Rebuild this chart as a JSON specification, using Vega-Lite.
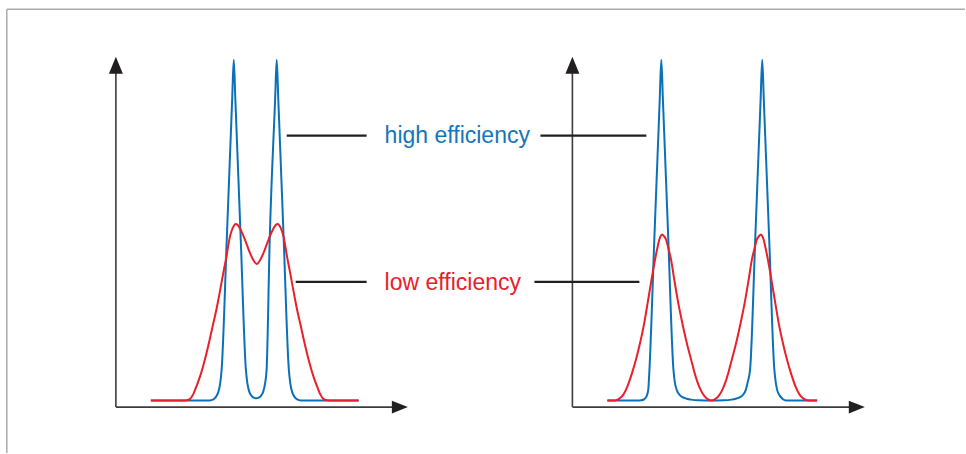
{
  "$schema": "https://vega.github.io/schema/vega-lite/v6.json",
  "width": 966,
  "height": 454,
  "autosize": {"type": "fit", "contains": "padding"},
  "padding": 0,
  "background": "white",
  "view": {"stroke": null},
  "config": {"font": "Liberation Sans"},
  "datasets": {
    "frame": [
      {"t": 6.8, "t2": 966, "s": 392.2, "s2": 392.2},
      {"t": 6.8, "t2": 6.8, "s": 392.2, "s2": -52.5}
    ],
    "axes": [
      {"t": 116, "t2": 116, "s": -6.5, "s2": 332},
      {"t": 116, "t2": 400, "s": -6.5, "s2": -6.5},
      {"t": 573, "t2": 573, "s": -6.5, "s2": 332},
      {"t": 573, "t2": 858, "s": -6.5, "s2": -6.5}
    ],
    "arrowsUp": [
      {"t": 116, "s": 336},
      {"t": 573, "s": 336}
    ],
    "arrowsRight": [
      {"t": 400.3, "s": -6.5},
      {"t": 857.7, "s": -6.5}
    ],
    "leaders": [
      {"t": 287, "t2": 367, "s": 265.5, "s2": 265.5},
      {"t": 541, "t2": 647, "s": 265.5, "s2": 265.5},
      {"t": 296, "t2": 367, "s": 119, "s2": 119},
      {"t": 535, "t2": 640, "s": 119, "s2": 119}
    ],
    "labels": [
      {"t": 385, "s": 258.3, "label": "high efficiency"},
      {"t": 385, "s": 111.3, "label": "low efficiency"}
    ],
    "blue": [
      {"panel": "L", "t": 151, "s": 0},
      {"panel": "L", "t": 205, "s": 0},
      {"panel": "L", "t": 210, "s": 0.2},
      {"panel": "L", "t": 213, "s": 1},
      {"panel": "L", "t": 216, "s": 3.5},
      {"panel": "L", "t": 218.5, "s": 8.5},
      {"panel": "L", "t": 220.3, "s": 16.5},
      {"panel": "L", "t": 221.9, "s": 31.5},
      {"panel": "L", "t": 227, "s": 161.5},
      {"panel": "L", "t": 232.4, "s": 301.5},
      {"panel": "L", "t": 234, "s": 341.5},
      {"panel": "L", "t": 235.6, "s": 301.5},
      {"panel": "L", "t": 241, "s": 161.5},
      {"panel": "L", "t": 246.1, "s": 31.5},
      {"panel": "L", "t": 247.6, "s": 17.5},
      {"panel": "L", "t": 249.5, "s": 9},
      {"panel": "L", "t": 252, "s": 4.5},
      {"panel": "L", "t": 254.5, "s": 2.7},
      {"panel": "L", "t": 256.5, "s": 2.3},
      {"panel": "L", "t": 258.5, "s": 2.7},
      {"panel": "L", "t": 261, "s": 4.5},
      {"panel": "L", "t": 263.5, "s": 9},
      {"panel": "L", "t": 265.4, "s": 17.5},
      {"panel": "L", "t": 266.9, "s": 31.5},
      {"panel": "L", "t": 270, "s": 161.5},
      {"panel": "L", "t": 275.4, "s": 301.5},
      {"panel": "L", "t": 277, "s": 341.5},
      {"panel": "L", "t": 278.6, "s": 301.5},
      {"panel": "L", "t": 284, "s": 161.5},
      {"panel": "L", "t": 289.1, "s": 31.5},
      {"panel": "L", "t": 290.7, "s": 16.5},
      {"panel": "L", "t": 292.5, "s": 8.5},
      {"panel": "L", "t": 295, "s": 3.5},
      {"panel": "L", "t": 298, "s": 1},
      {"panel": "L", "t": 301, "s": 0.2},
      {"panel": "L", "t": 306, "s": 0},
      {"panel": "L", "t": 359, "s": 0},
      {"panel": "R", "t": 608, "s": 0},
      {"panel": "R", "t": 638, "s": 0},
      {"panel": "R", "t": 642, "s": 0.3},
      {"panel": "R", "t": 645, "s": 1.5},
      {"panel": "R", "t": 647.5, "s": 5},
      {"panel": "R", "t": 649, "s": 11.5},
      {"panel": "R", "t": 649.9, "s": 26.5},
      {"panel": "R", "t": 655, "s": 161.5},
      {"panel": "R", "t": 660.4, "s": 301.5},
      {"panel": "R", "t": 662, "s": 341.5},
      {"panel": "R", "t": 663.6, "s": 301.5},
      {"panel": "R", "t": 669, "s": 161.5},
      {"panel": "R", "t": 674.1, "s": 31.5},
      {"panel": "R", "t": 675.5, "s": 18.5},
      {"panel": "R", "t": 677.5, "s": 10.5},
      {"panel": "R", "t": 680.5, "s": 5.5},
      {"panel": "R", "t": 685, "s": 2.7},
      {"panel": "R", "t": 692, "s": 1},
      {"panel": "R", "t": 700, "s": 0.3},
      {"panel": "R", "t": 712, "s": 0},
      {"panel": "R", "t": 724, "s": 0.3},
      {"panel": "R", "t": 732, "s": 1},
      {"panel": "R", "t": 739, "s": 2.7},
      {"panel": "R", "t": 743.5, "s": 5.5},
      {"panel": "R", "t": 746.5, "s": 10.5},
      {"panel": "R", "t": 748.5, "s": 18.5},
      {"panel": "R", "t": 750.9, "s": 31.5},
      {"panel": "R", "t": 756, "s": 161.5},
      {"panel": "R", "t": 761.4, "s": 301.5},
      {"panel": "R", "t": 763, "s": 341.5},
      {"panel": "R", "t": 764.6, "s": 301.5},
      {"panel": "R", "t": 770, "s": 161.5},
      {"panel": "R", "t": 775.1, "s": 31.5},
      {"panel": "R", "t": 776.5, "s": 18.5},
      {"panel": "R", "t": 778, "s": 10.5},
      {"panel": "R", "t": 780.5, "s": 5},
      {"panel": "R", "t": 783.5, "s": 1.7},
      {"panel": "R", "t": 787, "s": 0.2},
      {"panel": "R", "t": 792, "s": 0},
      {"panel": "R", "t": 818, "s": 0}
    ],
    "red": [
      {"panel": "L", "t": 151, "s": 0},
      {"panel": "L", "t": 183, "s": 0},
      {"panel": "L", "t": 187, "s": 0.3},
      {"panel": "L", "t": 190, "s": 1.5},
      {"panel": "L", "t": 193.5, "s": 6.5},
      {"panel": "L", "t": 196.7, "s": 14.5},
      {"panel": "L", "t": 200, "s": 23.5},
      {"panel": "L", "t": 203.3, "s": 34.5},
      {"panel": "L", "t": 206.7, "s": 47.5},
      {"panel": "L", "t": 210, "s": 61.5},
      {"panel": "L", "t": 213.3, "s": 76.5},
      {"panel": "L", "t": 216.7, "s": 91.5},
      {"panel": "L", "t": 219.2, "s": 104.5},
      {"panel": "L", "t": 221.7, "s": 118},
      {"panel": "L", "t": 224.2, "s": 131.5},
      {"panel": "L", "t": 226.7, "s": 144.5},
      {"panel": "L", "t": 228.5, "s": 155.5},
      {"panel": "L", "t": 230.2, "s": 164.5},
      {"panel": "L", "t": 232, "s": 170.5},
      {"panel": "L", "t": 234, "s": 175},
      {"panel": "L", "t": 236, "s": 177},
      {"panel": "L", "t": 238, "s": 176},
      {"panel": "L", "t": 240.5, "s": 172},
      {"panel": "L", "t": 243.5, "s": 165.5},
      {"panel": "L", "t": 247, "s": 156.5},
      {"panel": "L", "t": 250, "s": 148.5},
      {"panel": "L", "t": 253.3, "s": 141.5},
      {"panel": "L", "t": 257, "s": 137},
      {"panel": "L", "t": 260.7, "s": 141.5},
      {"panel": "L", "t": 264, "s": 148.5},
      {"panel": "L", "t": 267, "s": 156.5},
      {"panel": "L", "t": 270.5, "s": 165.5},
      {"panel": "L", "t": 273.5, "s": 172},
      {"panel": "L", "t": 276, "s": 176},
      {"panel": "L", "t": 278, "s": 177},
      {"panel": "L", "t": 280, "s": 175},
      {"panel": "L", "t": 282, "s": 170.5},
      {"panel": "L", "t": 283.8, "s": 164.5},
      {"panel": "L", "t": 285.5, "s": 155.5},
      {"panel": "L", "t": 287.3, "s": 144.5},
      {"panel": "L", "t": 289.8, "s": 131.5},
      {"panel": "L", "t": 292.3, "s": 118},
      {"panel": "L", "t": 294.8, "s": 104.5},
      {"panel": "L", "t": 297.3, "s": 91.5},
      {"panel": "L", "t": 300.7, "s": 76.5},
      {"panel": "L", "t": 304, "s": 61.5},
      {"panel": "L", "t": 307.3, "s": 47.5},
      {"panel": "L", "t": 310.7, "s": 34.5},
      {"panel": "L", "t": 314, "s": 23.5},
      {"panel": "L", "t": 317.3, "s": 14.5},
      {"panel": "L", "t": 320.5, "s": 6.5},
      {"panel": "L", "t": 324, "s": 1.5},
      {"panel": "L", "t": 327, "s": 0.3},
      {"panel": "L", "t": 331, "s": 0},
      {"panel": "L", "t": 359, "s": 0},
      {"panel": "R", "t": 608, "s": 0},
      {"panel": "R", "t": 614, "s": 0},
      {"panel": "R", "t": 617, "s": 0.5},
      {"panel": "R", "t": 620, "s": 2},
      {"panel": "R", "t": 624, "s": 6},
      {"panel": "R", "t": 628.3, "s": 14.8},
      {"panel": "R", "t": 632.5, "s": 27},
      {"panel": "R", "t": 636.7, "s": 41.5},
      {"panel": "R", "t": 641, "s": 59},
      {"panel": "R", "t": 645, "s": 78.2},
      {"panel": "R", "t": 648.5, "s": 99},
      {"panel": "R", "t": 651.7, "s": 118.2},
      {"panel": "R", "t": 654.3, "s": 133.5},
      {"panel": "R", "t": 656.7, "s": 146.5},
      {"panel": "R", "t": 658.5, "s": 155},
      {"panel": "R", "t": 660, "s": 161.5},
      {"panel": "R", "t": 661.4, "s": 165},
      {"panel": "R", "t": 662.7, "s": 166.5},
      {"panel": "R", "t": 664.5, "s": 165},
      {"panel": "R", "t": 666.7, "s": 161.5},
      {"panel": "R", "t": 669.2, "s": 152},
      {"panel": "R", "t": 671.7, "s": 141.5},
      {"panel": "R", "t": 675, "s": 121},
      {"panel": "R", "t": 678.3, "s": 101.5},
      {"panel": "R", "t": 681.7, "s": 84},
      {"panel": "R", "t": 685, "s": 68.5},
      {"panel": "R", "t": 688.3, "s": 54.5},
      {"panel": "R", "t": 691.7, "s": 41.5},
      {"panel": "R", "t": 695, "s": 29},
      {"panel": "R", "t": 698.3, "s": 18.2},
      {"panel": "R", "t": 701.7, "s": 10},
      {"panel": "R", "t": 705, "s": 4.8},
      {"panel": "R", "t": 708.5, "s": 1.5},
      {"panel": "R", "t": 712.2, "s": 0},
      {"panel": "R", "t": 715.9, "s": 1.5},
      {"panel": "R", "t": 719.4, "s": 4.8},
      {"panel": "R", "t": 722.7, "s": 10},
      {"panel": "R", "t": 726.1, "s": 18.2},
      {"panel": "R", "t": 729.4, "s": 29},
      {"panel": "R", "t": 732.7, "s": 41.5},
      {"panel": "R", "t": 736.1, "s": 54.5},
      {"panel": "R", "t": 739.4, "s": 68.5},
      {"panel": "R", "t": 742.7, "s": 84},
      {"panel": "R", "t": 746.1, "s": 101.5},
      {"panel": "R", "t": 749.4, "s": 121},
      {"panel": "R", "t": 752.7, "s": 141.5},
      {"panel": "R", "t": 755.2, "s": 152},
      {"panel": "R", "t": 757.7, "s": 161.5},
      {"panel": "R", "t": 759.9, "s": 165},
      {"panel": "R", "t": 761.7, "s": 166.5},
      {"panel": "R", "t": 763, "s": 165},
      {"panel": "R", "t": 764.4, "s": 161.5},
      {"panel": "R", "t": 765.9, "s": 155},
      {"panel": "R", "t": 767.7, "s": 146.5},
      {"panel": "R", "t": 770.1, "s": 133.5},
      {"panel": "R", "t": 772.7, "s": 118.2},
      {"panel": "R", "t": 775.9, "s": 99},
      {"panel": "R", "t": 779.4, "s": 78.2},
      {"panel": "R", "t": 783.4, "s": 59},
      {"panel": "R", "t": 787.7, "s": 41.5},
      {"panel": "R", "t": 791.9, "s": 27},
      {"panel": "R", "t": 796.1, "s": 14.8},
      {"panel": "R", "t": 800.4, "s": 6},
      {"panel": "R", "t": 804.4, "s": 2},
      {"panel": "R", "t": 807.4, "s": 0.5},
      {"panel": "R", "t": 810.4, "s": 0},
      {"panel": "R", "t": 818, "s": 0}
    ]
  },
  "encoding": {
    "x": {"field": "t", "type": "quantitative", "scale": {"domain": [0, 966], "nice": false, "zero": false}, "axis": null},
    "y": {"field": "s", "type": "quantitative", "scale": {"domain": [-52.5, 401.5], "nice": false, "zero": false}, "axis": null}
  },
  "layer": [
    {
      "data": {"name": "frame"},
      "mark": {"type": "rule", "color": "#ababab", "strokeWidth": 1.5},
      "encoding": {"x2": {"field": "t2"}, "y2": {"field": "s2"}}
    },
    {
      "data": {"name": "axes"},
      "mark": {"type": "rule", "color": "#3c3c3c", "strokeWidth": 1.6},
      "encoding": {"x2": {"field": "t2"}, "y2": {"field": "s2"}}
    },
    {
      "data": {"name": "arrowsUp"},
      "mark": {"type": "point", "shape": "M0,-1L0.82,1L-0.82,1Z", "size": 289, "filled": true, "color": "#231f20", "opacity": 1, "strokeWidth": 0}
    },
    {
      "data": {"name": "arrowsRight"},
      "mark": {"type": "point", "shape": "M1,0L-1,-0.8L-1,0.8Z", "size": 256, "filled": true, "color": "#231f20", "opacity": 1, "strokeWidth": 0}
    },
    {
      "data": {"name": "leaders"},
      "mark": {"type": "rule", "color": "#231f20", "strokeWidth": 2.2},
      "encoding": {"x2": {"field": "t2"}, "y2": {"field": "s2"}}
    },
    {
      "data": {"name": "blue"},
      "mark": {"type": "line", "color": "#0a71b9", "strokeWidth": 2, "interpolate": "monotone"},
      "encoding": {"detail": {"field": "panel", "type": "nominal"}}
    },
    {
      "data": {"name": "red"},
      "mark": {"type": "line", "color": "#e8202a", "strokeWidth": 2, "interpolate": "monotone"},
      "encoding": {"detail": {"field": "panel", "type": "nominal"}}
    },
    {
      "data": {"name": "labels"},
      "mark": {"type": "text", "align": "left", "baseline": "alphabetic", "fontSize": 23, "font": "Liberation Sans"},
      "encoding": {
        "text": {"field": "label", "type": "nominal"},
        "color": {"field": "label", "type": "nominal", "scale": {"domain": ["high efficiency", "low efficiency"], "range": ["#1575bb", "#e8202a"]}, "legend": null}
      }
    }
  ]
}
